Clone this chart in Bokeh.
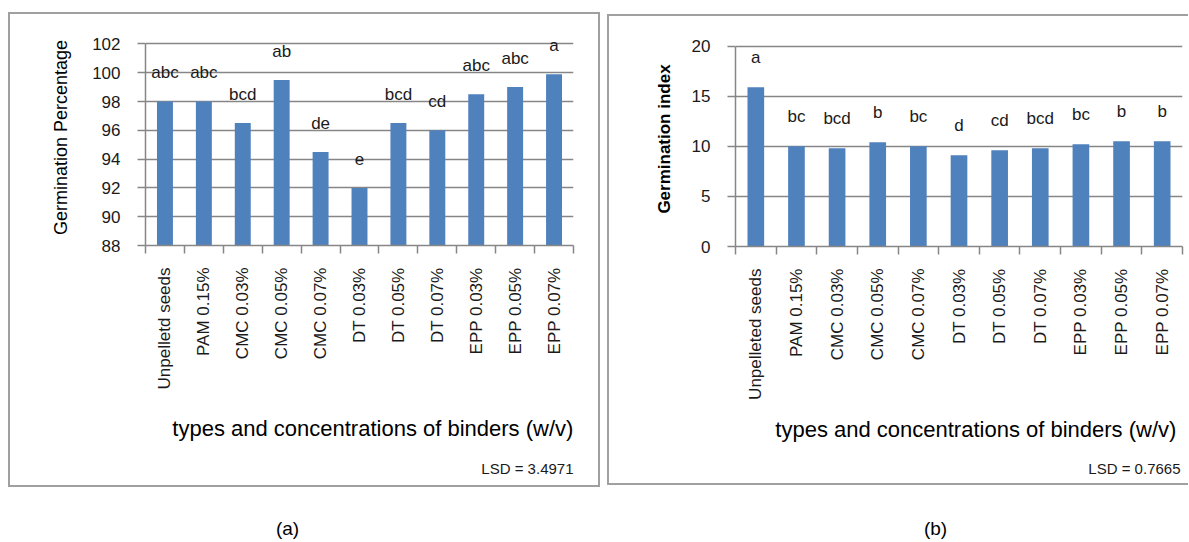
from math import pi
from bokeh.plotting import figure
from bokeh.models import (Range1d, LinearAxis, FixedTicker, Title, Label, LabelSet,
                          ColumnDataSource)
from bokeh.layouts import row, column
from bokeh.embed import file_html
from bokeh.resources import INLINE
from bokeh.core.properties import value

# ---------------- data ----------------
categories_a = ["Unpelletd seeds", "PAM 0.15%", "CMC 0.03%", "CMC 0.05%", "CMC 0.07%",
                "DT 0.03%", "DT 0.05%", "DT 0.07%", "EPP 0.03%", "EPP 0.05%", "EPP 0.07%"]
germination_pct = [98.0, 98.0, 96.5, 99.5, 94.5, 92.0, 96.5, 96.0, 98.5, 99.0, 99.9]
letters_a = ["abc", "abc", "bcd", "ab", "de", "e", "bcd", "cd", "abc", "abc", "a"]
yticks_a = [88, 90, 92, 94, 96, 98, 100, 102]
lsd_a = "LSD = 3.4971"

categories_b = ["Unpelleted seeds", "PAM 0.15%", "CMC 0.03%", "CMC 0.05%", "CMC 0.07%",
                "DT 0.03%", "DT 0.05%", "DT 0.07%", "EPP 0.03%", "EPP 0.05%", "EPP 0.07%"]
germination_idx = [15.9, 10.0, 9.8, 10.4, 10.0, 9.1, 9.6, 9.8, 10.2, 10.5, 10.5]
letters_b = ["a", "bc", "bcd", "b", "bc", "d", "cd", "bcd", "bc", "b", "b"]
yticks_b = [0, 5, 10, 15, 20]
lsd_b = "LSD = 0.7665"

x_title = "types  and concentrations of binders (w/v)"
captions = ["(a)", "(b)"]

FONT = "Liberation Sans"
GRAY = "#868686"
BAR = "#4F81BD"
BORDER = "2px solid #a0a0a0"
TXT = "#1a1a1a"


def panel(cats, vals, letters, gap, yr, yview, yticks, ylabel, ylabel_style, ylabel_size,
          ylabel_standoff, geom, styles, margin, xtitle_standoff, xtitle_offset,
          lsd, lsd_standoff, lsd_offset):
    n = len(cats)
    centers = [i + 0.5 for i in range(n)]
    src = ColumnDataSource(dict(x=centers, top=vals, label_y=[v + gap for v in vals],
                                letter=letters, cat=cats))
    p = figure(x_range=Range1d(0, n), y_range=Range1d(yr[0], yview),
               frame_width=geom["fw"], frame_height=geom["fh"],
               min_border_left=geom["l"], min_border_right=geom["r"],
               min_border_top=geom["t"], min_border_bottom=geom["b"],
               x_axis_location=None, toolbar_location=None,
               output_backend="svg", styles=styles, margin=margin)
    p.outline_line_color = None
    p.background_fill_color = "white"
    p.border_fill_color = "white"
    p.xgrid.grid_line_color = None
    p.ygrid.grid_line_color = GRAY
    p.ygrid.grid_line_width = 1.5
    p.ygrid.ticker = FixedTicker(ticks=yticks)

    p.vbar(x="x", top="top", bottom=yr[0], width=0.41, source=src,
           fill_color=BAR, line_color=None)
    p.add_layout(LabelSet(x="x", y="label_y", text="letter", source=src,
                          text_font=value(FONT), text_font_size="17px", text_color=TXT,
                          text_align="center", text_baseline="middle"))

    ya = p.yaxis[0]
    ya.bounds = (yr[0], yr[1])
    ya.ticker = FixedTicker(ticks=yticks)
    ya.axis_line_color = GRAY
    ya.axis_line_width = 1.5
    ya.major_tick_line_color = GRAY
    ya.major_tick_line_width = 1.5
    ya.major_tick_out = 8
    ya.major_tick_in = 0
    ya.minor_tick_line_color = None
    ya.major_label_standoff = 17
    ya.major_label_text_font = FONT
    ya.major_label_text_font_size = "17px"
    ya.major_label_text_color = TXT
    ya.axis_label = ylabel
    ya.axis_label_text_font = FONT
    ya.axis_label_text_font_size = ylabel_size
    ya.axis_label_text_font_style = ylabel_style
    ya.axis_label_text_color = "black"
    ya.axis_label_standoff = ylabel_standoff

    xa = LinearAxis(ticker=FixedTicker(ticks=centers, minor_ticks=list(range(n + 1))),
                    major_label_overrides={c: lab for c, lab in zip(centers, cats)})
    xa.major_label_orientation = pi / 2
    xa.axis_line_color = GRAY
    xa.axis_line_width = 1.5
    xa.major_tick_line_color = None
    xa.major_tick_out = 8
    xa.major_tick_in = 0
    xa.minor_tick_line_color = GRAY
    xa.minor_tick_line_width = 1.5
    xa.minor_tick_out = 8
    xa.minor_tick_in = 0
    xa.major_label_standoff = 14
    xa.major_label_text_font = FONT
    xa.major_label_text_font_size = "17px"
    xa.major_label_text_color = TXT
    p.add_layout(xa, "below")

    t1 = Title(text=x_title, align="right", text_font=FONT, text_font_size="22px",
               text_font_style="normal", text_color="black",
               standoff=xtitle_standoff, offset=xtitle_offset)
    p.add_layout(t1, "below")
    t2 = Title(text=lsd, align="right", text_font=FONT, text_font_size="15px",
               text_font_style="normal", text_color=TXT,
               standoff=lsd_standoff, offset=lsd_offset)
    p.add_layout(t2, "below")
    return p


pa = panel(categories_a, germination_pct, letters_a, 2.0, (88, 102), 103, yticks_a,
           "Germination Percentage", "normal", "18px", 18,
           dict(fw=424, fh=212, l=135, r=29, t=15, b=244),
           {"border": BORDER}, (12, 0, 0, 8), 42, -6, lsd_a, -8, 0)

pb = panel(categories_b, germination_idx, letters_b, 3.0, (0, 20), 21.45, yticks_b,
           "Germination index", "bold", "17px", 15,
           dict(fw=445, fh=211, l=126, r=8, t=15, b=241),
           {"border-left": BORDER, "border-top": BORDER, "border-bottom": BORDER},
           (14, 0, 0, 7), 24, 0, lsd_b, 8, 2)

cap = figure(width=1189, height=55, x_range=Range1d(0, 1189), y_range=Range1d(0, 55),
             x_axis_location=None, y_axis_location=None, toolbar_location=None,
             output_backend="svg", min_border=0)
cap.outline_line_color = None
cap.grid.grid_line_color = None
for xc, txt in zip([287, 935], captions):
    cap.add_layout(Label(x=xc, y=14, text=txt, text_font=FONT, text_font_size="19px",
                         text_color="black", text_align="center", text_baseline="middle"))

layout = column(row(pa, pb), cap)
open("out.html", "w").write(file_html(layout, INLINE))
